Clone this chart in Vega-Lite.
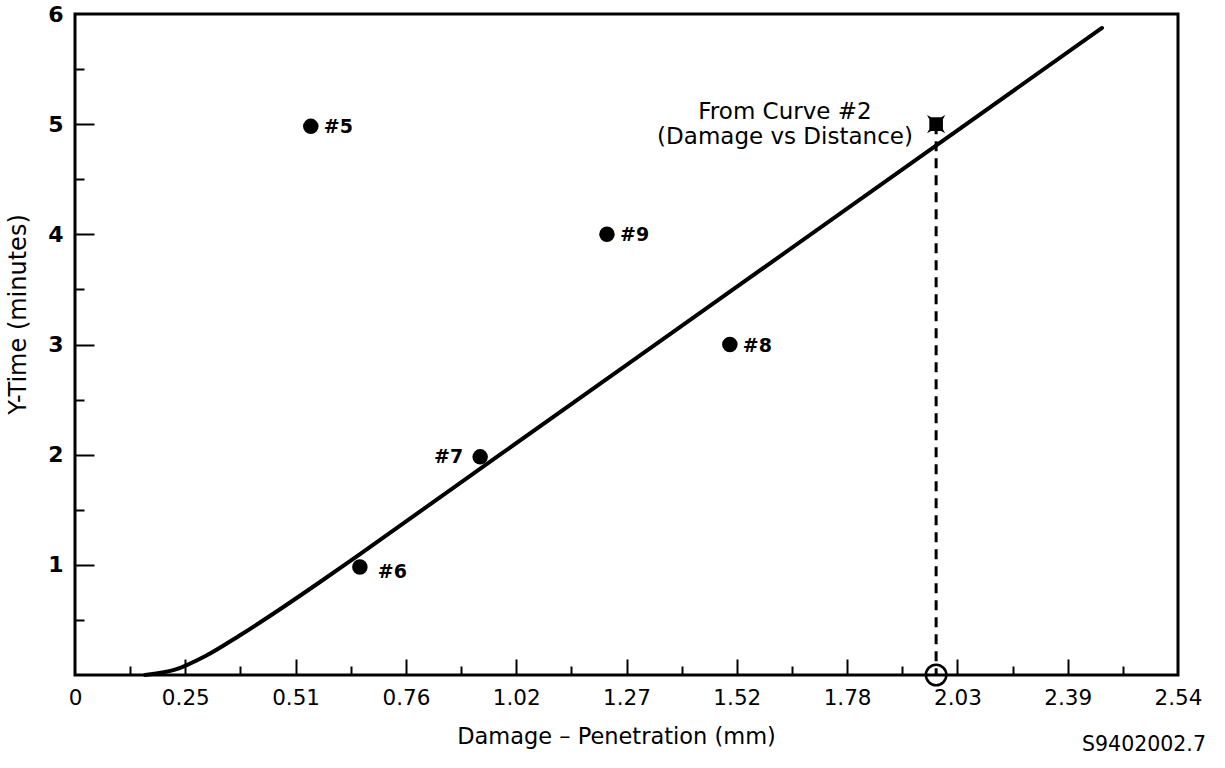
{
  "$schema": "https://vega.github.io/schema/vega-lite/v6.json",
  "width": 1103,
  "height": 661,
  "autosize": {"type": "none"},
  "padding": {"left": 75, "top": 14, "right": 47, "bottom": 93},
  "background": "white",
  "config": {
    "view": {"stroke": "black", "strokeWidth": 3},
    "font": "DejaVu Sans",
    "title": {"fontSize": 20, "font": "DejaVu Sans", "fontWeight": "normal", "color": "black"},
    "axis": {"grid": false, "domain": false, "labelFont": "DejaVu Sans", "titleFont": "DejaVu Sans", "labelColor": "black", "titleColor": "black", "tickColor": "black"}
  },
  "title": {"text": "S9402002.7", "orient": "bottom", "anchor": "end", "font": "DejaVu Sans", "fontSize": 20.5, "fontWeight": "normal", "color": "black", "offset": -13, "dx": 4},
  "datasets": {
    "curve": [
      {"d": 0.1612, "t": 0.0},
      {"d": 0.2303, "t": 0.048},
      {"d": 0.2994, "t": 0.170},
      {"d": 0.3800, "t": 0.361},
      {"d": 0.4721, "t": 0.597},
      {"d": 0.5642, "t": 0.844},
      {"d": 0.6563, "t": 1.098},
      {"d": 0.9787, "t": 2.000},
      {"d": 1.4393, "t": 3.287},
      {"d": 1.8998, "t": 4.574},
      {"d": 2.3650, "t": 5.873}
    ],
    "points": [
      {"d": 0.543, "t": 4.98, "label": "#5"},
      {"d": 1.225, "t": 4.0, "label": "#9"},
      {"d": 1.508, "t": 3.0, "label": "#8"},
      {"d": 0.933, "t": 1.98, "label": "#7"},
      {"d": 0.656, "t": 0.98, "label": "#6"}
    ],
    "ref": [
      {"d": 1.983, "t": 5.0, "t0": 0}
    ],
    "note": [
      {"d": 1.635, "t": 5.11, "text": "From Curve #2"},
      {"d": 1.635, "t": 4.88, "text": "(Damage vs Distance)"}
    ]
  },
  "resolve": {"axis": {"x": "independent", "y": "independent"}},
  "layer": [
    {
      "data": {"name": "curve"},
      "mark": {"type": "line", "color": "black", "strokeWidth": 4, "interpolate": "monotone", "strokeCap": "round"},
      "encoding": {
        "x": {"field": "d", "type": "quantitative", "scale": {"domain": [0, 2.54], "nice": false, "zero": false},
          "axis": {"orient": "bottom", "values": [0, 0.254, 0.508, 0.762, 1.016, 1.27, 1.524, 1.778, 2.032, 2.286, 2.54],
            "labelExpr": "datum.value == 0 ? '0' : (abs(datum.value - 2.286) < 0.01 ? '2.39' : format(datum.value, '.2f'))",
            "ticks": false, "tickSize": 0, "labelPadding": 12, "labelFontSize": 21.5, "labelFlush": false, "labelOverlap": false, "labelBound": false,
            "title": "Damage – Penetration (mm)", "titleFontSize": 22.5, "titleFontWeight": "normal", "titleY": 50, "titleX": 541, "titleBaseline": "top"}},
        "y": {"field": "t", "type": "quantitative", "scale": {"domain": [0, 6], "nice": false},
          "axis": {"orient": "left", "values": [1, 2, 3, 4, 5, 6], "format": "d", "ticks": false, "tickSize": 0, "labelPadding": 12,
            "labelFontSize": 22, "labelFontWeight": "bold", "labelFlush": false, "labelOverlap": false, "labelBound": false,
            "title": "Y-Time (minutes)", "titleFontSize": 24, "titleFontWeight": "normal", "titleX": -57, "titleY": 300, "titleBaseline": "middle", "titleAngle": -90, "titleAlign": "center"}}
      }
    },
    {
      "data": {"name": "points"},
      "mark": {"type": "point", "shape": "circle", "filled": true, "color": "black", "opacity": 1, "size": 240},
      "encoding": {
        "x": {"field": "d", "type": "quantitative",
          "axis": {"orient": "bottom", "values": [0.254, 0.508, 0.762, 1.016, 1.27, 1.524, 1.778, 2.032, 2.286],
            "labels": false, "ticks": true, "tickSize": -16, "tickWidth": 2, "title": null}},
        "y": {"field": "t", "type": "quantitative",
          "axis": {"orient": "left", "values": [1, 2, 3, 4, 5], "labels": false, "ticks": true, "tickSize": -19, "tickWidth": 2, "title": null}}
      }
    },
    {
      "data": {"name": "points"},
      "transform": [{"filter": "datum.label == '#5' || datum.label == '#9' || datum.label == '#8'"}],
      "mark": {"type": "text", "align": "left", "baseline": "middle", "dx": 13, "dy": 1, "fontSize": 19, "fontWeight": "bold", "color": "black"},
      "encoding": {
        "x": {"field": "d", "type": "quantitative",
          "axis": {"orient": "bottom", "values": [0.127, 0.381, 0.635, 0.889, 1.143, 1.397, 1.651, 1.905, 2.159, 2.413],
            "labels": false, "ticks": true, "tickSize": -9, "tickWidth": 2, "title": null}},
        "y": {"field": "t", "type": "quantitative",
          "axis": {"orient": "left", "values": [0.5, 1.5, 2.5, 3.5, 4.5, 5.5], "labels": false, "ticks": true, "tickSize": -9, "tickWidth": 2, "title": null}},
        "text": {"field": "label"}
      }
    },
    {
      "data": {"name": "points"},
      "transform": [{"filter": "datum.label == '#7'"}],
      "mark": {"type": "text", "align": "right", "baseline": "middle", "dx": -17, "dy": 0, "fontSize": 19, "fontWeight": "bold", "color": "black"},
      "encoding": {
        "x": {"field": "d", "type": "quantitative", "axis": null},
        "y": {"field": "t", "type": "quantitative", "axis": null},
        "text": {"field": "label"}
      }
    },
    {
      "data": {"name": "points"},
      "transform": [{"filter": "datum.label == '#6'"}],
      "mark": {"type": "text", "align": "left", "baseline": "middle", "dx": 18, "dy": 5, "fontSize": 19, "fontWeight": "bold", "color": "black"},
      "encoding": {
        "x": {"field": "d", "type": "quantitative", "axis": null},
        "y": {"field": "t", "type": "quantitative", "axis": null},
        "text": {"field": "label"}
      }
    },
    {
      "data": {"name": "ref"},
      "mark": {"type": "rule", "color": "black", "strokeWidth": 3, "strokeDash": [10, 7]},
      "encoding": {
        "x": {"field": "d", "type": "quantitative", "axis": null},
        "y": {"field": "t", "type": "quantitative", "axis": null},
        "y2": {"field": "t0"}
      }
    },
    {
      "data": {"name": "ref"},
      "mark": {"type": "point", "shape": "M-1,-1L-0.55,-0.75L0.55,-0.75L1,-1L0.75,-0.55L0.75,0.55L1,1L0.55,0.75L-0.55,0.75L-1,1L-0.75,0.55L-0.75,-0.55Z", "filled": true, "color": "black", "opacity": 1, "size": 330},
      "encoding": {
        "x": {"field": "d", "type": "quantitative", "axis": null},
        "y": {"field": "t", "type": "quantitative", "axis": null}
      }
    },
    {
      "data": {"name": "ref"},
      "mark": {"type": "point", "shape": "circle", "filled": false, "color": "black", "strokeWidth": 2.5, "opacity": 1, "size": 420},
      "encoding": {
        "x": {"field": "d", "type": "quantitative", "axis": null},
        "y": {"field": "t0", "type": "quantitative", "axis": null}
      }
    },
    {
      "data": {"name": "note"},
      "mark": {"type": "text", "align": "center", "baseline": "middle", "fontSize": 23, "color": "black"},
      "encoding": {
        "x": {"field": "d", "type": "quantitative", "axis": null},
        "y": {"field": "t", "type": "quantitative", "axis": null},
        "text": {"field": "text"}
      }
    }
  ]
}
